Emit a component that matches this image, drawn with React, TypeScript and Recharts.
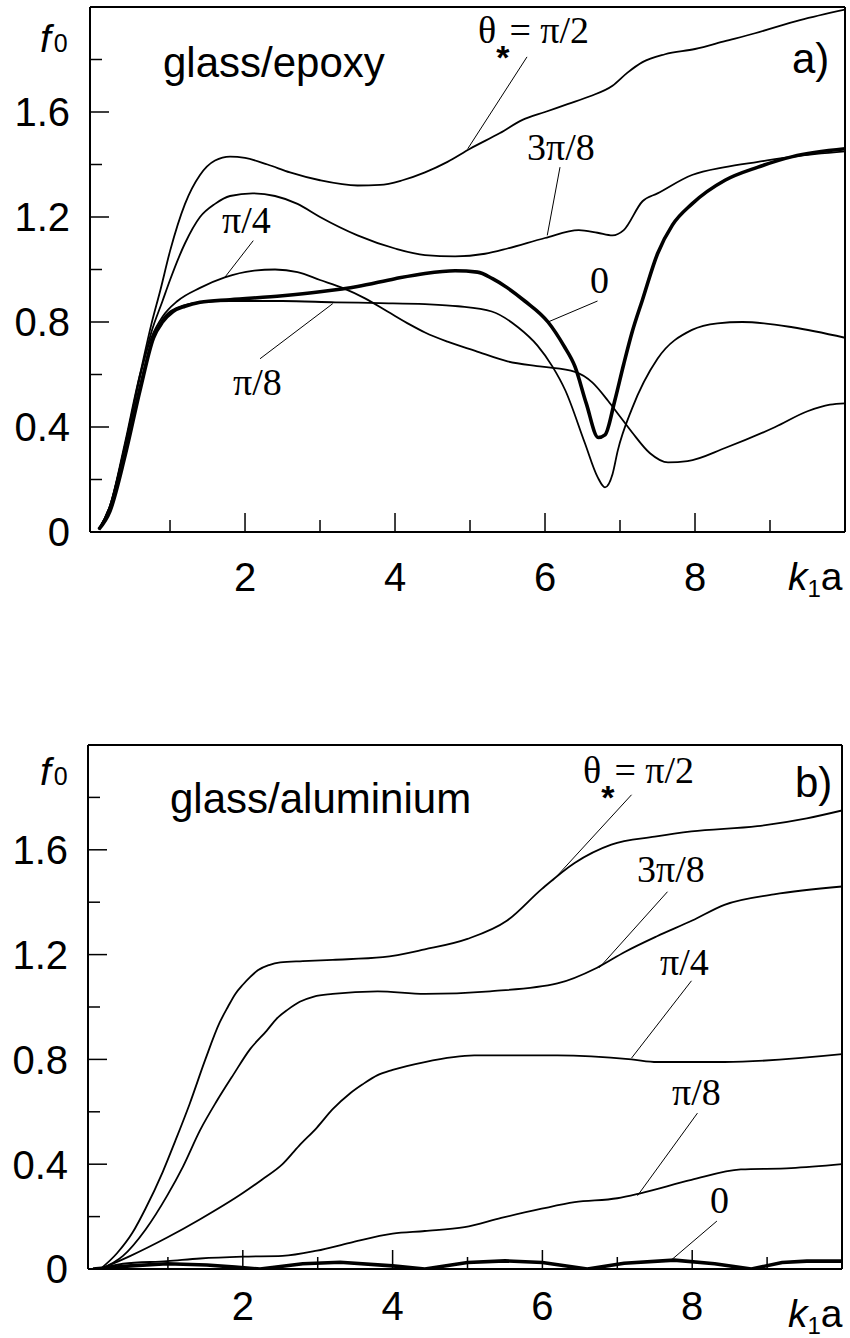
import React from "react";
import { LineChart, Line, XAxis, YAxis, ReferenceLine } from "recharts";

// k1a ticks (minor ones carry no label)
const xTicks = [1, 2, 3, 4, 5, 6, 7, 8, 9];
const xLabelled = [2, 4, 6, 8];
const yTicks = [0, 0.2, 0.4, 0.6, 0.8, 1.0, 1.2, 1.4, 1.6, 1.8];
const yLabelled = [0, 0.4, 0.8, 1.2, 1.6];

// a) glass/epoxy, [k1a, f0]
const epoxyHalfPi = [
  [0.05, 0.01], [0.2, 0.1], [0.4, 0.33], [0.6, 0.6], [0.75, 0.79], [0.87, 0.92], [1.0, 1.07],
  [1.2, 1.25], [1.4, 1.36], [1.6, 1.415], [1.8, 1.43], [2.0, 1.425], [2.3, 1.4], [2.6, 1.37],
  [3.0, 1.34], [3.5, 1.32], [3.8, 1.322], [4.1, 1.34], [4.4, 1.37], [4.7, 1.41], [5.0, 1.46],
  [5.4, 1.52], [5.7, 1.57], [6.0, 1.6], [6.3, 1.63], [6.6, 1.66], [6.9, 1.7], [7.1, 1.75],
  [7.3, 1.79], [7.6, 1.82], [8.0, 1.84], [8.4, 1.87], [8.8, 1.9], [9.4, 1.95], [10, 1.99],
];
const epoxy3Pi8 = [
  [0.05, 0.01], [0.2, 0.1], [0.4, 0.33], [0.6, 0.59], [0.75, 0.76], [0.9, 0.88], [1.0, 0.96],
  [1.2, 1.1], [1.4, 1.2], [1.6, 1.25], [1.8, 1.28], [2.1, 1.29], [2.4, 1.28], [2.7, 1.25],
  [3.0, 1.2], [3.5, 1.13], [4.0, 1.08], [4.4, 1.055], [4.8, 1.05], [5.2, 1.06], [5.5, 1.08],
  [6.0, 1.12], [6.45, 1.15], [6.7, 1.14], [6.9, 1.13], [7.05, 1.15], [7.3, 1.26], [7.5, 1.29],
  [7.96, 1.36], [8.4, 1.39], [8.84, 1.41], [9.3, 1.43], [10, 1.45],
];
const epoxyPi4 = [
  [0.05, 0.01], [0.2, 0.1], [0.4, 0.34], [0.6, 0.6], [0.75, 0.74], [0.9, 0.82], [1.1, 0.88],
  [1.4, 0.93], [1.73, 0.97], [2.1, 0.995], [2.4, 1.0], [2.7, 0.99], [3.0, 0.96], [3.3, 0.93],
  [3.6, 0.89], [3.9, 0.84], [4.2, 0.79], [4.4, 0.76], [4.7, 0.725], [5.07, 0.69], [5.5, 0.65],
  [5.96, 0.63], [6.4, 0.61], [6.63, 0.57], [6.84, 0.5], [7.0, 0.44], [7.16, 0.38], [7.4, 0.3],
  [7.64, 0.265], [7.9, 0.27], [8.4, 0.32], [9.07, 0.4], [9.5, 0.46], [9.8, 0.485], [10, 0.49],
];
const epoxyPi8 = [
  [0.05, 0.01], [0.2, 0.09], [0.4, 0.31], [0.6, 0.56], [0.75, 0.72], [0.9, 0.81], [1.1, 0.855],
  [1.4, 0.875], [1.8, 0.88], [2.5, 0.88], [3.2, 0.875], [3.8, 0.872], [4.4, 0.868], [4.84, 0.86],
  [5.29, 0.84], [5.64, 0.78], [5.9, 0.71], [6.1, 0.63], [6.27, 0.54], [6.53, 0.34], [6.7, 0.21],
  [6.8, 0.17], [6.9, 0.22], [6.97, 0.31], [7.16, 0.47], [7.5, 0.66], [7.96, 0.77], [8.3, 0.795],
  [8.63, 0.8], [9.3, 0.78], [10, 0.74],
];
const epoxyZero = [
  [0.05, 0.01], [0.2, 0.08], [0.4, 0.29], [0.6, 0.54], [0.78, 0.74], [0.9, 0.8], [1.04, 0.84],
  [1.2, 0.86], [1.4, 0.875], [1.8, 0.885], [2.5, 0.9], [3.0, 0.915], [3.5, 0.935], [4.0, 0.965],
  [4.4, 0.985], [4.8, 0.995], [5.1, 0.99], [5.3, 0.965], [5.5, 0.93], [5.73, 0.88], [6.04, 0.8],
  [6.25, 0.71], [6.4, 0.63], [6.55, 0.49], [6.71, 0.36], [6.8, 0.37], [6.93, 0.5], [7.05, 0.64],
  [7.16, 0.76], [7.3, 0.885], [7.5, 1.06], [7.7, 1.17], [7.96, 1.25], [8.4, 1.34], [8.84, 1.39],
  [9.3, 1.43], [10, 1.46],
];

// b) glass/aluminium
const aluHalfPi = [
  [0.1, 0.0], [0.32, 0.06], [0.53, 0.14], [0.7, 0.23], [0.93, 0.37], [1.1, 0.49], [1.29, 0.63],
  [1.5, 0.8], [1.69, 0.94], [1.8, 1.0], [1.9, 1.05], [2.0, 1.085], [2.1, 1.115], [2.2, 1.14],
  [2.35, 1.16], [2.5, 1.17], [2.8, 1.175], [3.2, 1.18], [3.87, 1.19], [4.43, 1.22], [5.0, 1.26],
  [5.53, 1.33], [5.99, 1.45], [6.43, 1.55], [6.92, 1.62], [7.5, 1.65], [7.99, 1.67], [8.87, 1.69],
  [9.53, 1.72], [10, 1.75],
];
const alu3Pi8 = [
  [0.1, 0.0], [0.4, 0.05], [0.7, 0.15], [0.99, 0.28], [1.2, 0.39], [1.43, 0.53], [1.65, 0.64],
  [1.87, 0.74], [2.1, 0.84], [2.32, 0.91], [2.45, 0.955], [2.6, 0.99], [2.76, 1.02], [2.95, 1.04],
  [3.2, 1.05], [3.8, 1.06], [4.43, 1.05], [5.3, 1.06], [6.2, 1.09], [6.73, 1.15], [7.1, 1.21],
  [7.53, 1.27], [8.0, 1.33], [8.43, 1.39], [9.09, 1.43], [10, 1.46],
];
const aluPi4 = [
  [0.1, 0.0], [0.5, 0.05], [0.99, 0.12], [1.43, 0.19], [2.0, 0.29], [2.25, 0.34], [2.53, 0.4],
  [2.75, 0.47], [2.99, 0.54], [3.2, 0.61], [3.43, 0.67], [3.6, 0.705], [3.8, 0.74], [4.0, 0.76],
  [4.43, 0.79], [5.09, 0.815], [6.2, 0.815], [7.19, 0.8], [7.53, 0.79], [8.43, 0.79], [10, 0.82],
];
const aluPi8 = [
  [0.1, 0.0], [0.4, 0.02], [0.99, 0.03], [1.43, 0.04], [2.0, 0.047], [2.53, 0.05], [2.99, 0.07],
  [3.43, 0.1], [4.0, 0.135], [4.43, 0.145], [4.96, 0.16], [5.45, 0.195], [5.99, 0.23],
  [6.43, 0.255], [7.0, 0.27], [7.32, 0.29], [7.99, 0.34], [8.65, 0.38], [9.32, 0.385], [10, 0.4],
];
const aluZero = [
  [0.0, 0.0], [0.5, 0.012], [0.99, 0.02], [1.52, 0.015], [1.9, 0.007], [2.23, 0.0], [2.8, 0.02],
  [3.3, 0.026], [4.0, 0.012], [4.43, 0.0], [5.0, 0.025], [5.5, 0.031], [6.0, 0.025], [6.6, 0.0],
  [7.09, 0.022], [7.76, 0.034], [8.3, 0.02], [8.79, 0.0], [9.2, 0.025], [9.53, 0.03], [10, 0.03],
];

const SANS = "Liberation Sans, Arial, sans-serif";
const SERIF = "Liberation Serif, Times New Roman, serif";

const toPts = (arr: number[][]) => arr.map(([x, y]) => ({ x, y }));
const near = (list: number[], v: number) => list.some((t) => Math.abs(t - v) < 1e-6);

function YTick(props: any) {
  const { x, y, payload } = props;
  const major = near(yLabelled, payload.value);
  const txt = payload.value === 0 ? "0" : payload.value.toFixed(1);
  return (
    <g>
      <line x1={x} x2={x + (major ? 19 : 12)} y1={y} y2={y} stroke="#000" strokeWidth={1.5} />
      {major && (
        <text x={x - 20} y={y} dy="0.36em" textAnchor="end" fontFamily={SANS} fontSize={40} fill="#000">
          {txt}
        </text>
      )}
    </g>
  );
}

// labelY is the baseline of the tick numbers, in svg pixels
function makeXTick(labelY: number) {
  return function XTick(props: any) {
    const { x, y, payload } = props;
    const major = near(xLabelled, payload.value);
    return (
      <g>
        <line x1={x} x2={x} y1={y} y2={y - (major ? 19 : 12)} stroke="#000" strokeWidth={1.5} />
        {major && (
          <text x={x} y={labelY} textAnchor="middle" fontFamily={SANS} fontSize={40} fill="#000">
            {payload.value}
          </text>
        )}
      </g>
    );
  };
}

type Curve = { name: string; pts: number[][]; thick?: boolean; linear?: boolean };
type Leader = [number, number, number, number];
type Tag = { text: string; x: number; y: number };

function Panel(props: {
  top: number;
  height: number;
  margin: { top: number; right: number; bottom: number; left: number };
  curves: Curve[];
  leaders: Leader[];
  tags: Tag[];
  title: string;
  titleX: number;
  titleY: number;
  letter: string;
  letterX: number;
  letterY: number;
  f0Y: number;
  kaY: number;
  tickLabelY: number;
  theta: { x: number; y: number };
}) {
  const XTick = makeXTick(props.tickLabelY);
  const frame = { stroke: "#000", strokeWidth: 2 };
  return (
    <div style={{ position: "absolute", left: 0, top: props.top }}>
      <LineChart width={850} height={props.height} margin={props.margin}>
        <XAxis
          dataKey="x"
          type="number"
          domain={[-0.067, 10]}
          ticks={xTicks}
          allowDataOverflow
          height={1}
          tickSize={0}
          tickMargin={0}
          tickLine={false}
          axisLine={frame}
          tick={<XTick />}
          interval={0}
        />
        <XAxis
          xAxisId="top"
          orientation="top"
          dataKey="x"
          type="number"
          domain={[-0.067, 10]}
          ticks={xTicks}
          height={1}
          tickSize={0}
          tick={false}
          tickLine={false}
          axisLine={frame}
        />
        <YAxis
          type="number"
          domain={[0, 2]}
          ticks={yTicks}
          allowDataOverflow
          width={1}
          tickSize={0}
          tickMargin={0}
          tickLine={false}
          axisLine={frame}
          tick={<YTick />}
          interval={0}
        />
        <YAxis
          yAxisId="right"
          orientation="right"
          type="number"
          domain={[0, 2]}
          ticks={yTicks}
          width={1}
          tickSize={0}
          tick={false}
          tickLine={false}
          axisLine={frame}
        />
        {props.leaders.map((l, i) => (
          <ReferenceLine
            key={"l" + i}
            segment={[
              { x: l[0], y: l[1] },
              { x: l[2], y: l[3] },
            ]}
            stroke="#000"
            strokeWidth={1}
            ifOverflow="visible"
          />
        ))}
        {props.curves.map((c) => (
          <Line
            key={c.name}
            name={c.name}
            data={toPts(c.pts)}
            dataKey="y"
            type={c.linear ? "linear" : "monotone"}
            stroke="#000"
            strokeWidth={c.thick ? 3.6 : 1.8}
            dot={false}
            isAnimationActive={false}
          />
        ))}
        <text x={props.titleX} y={props.titleY} fontFamily={SANS} fontSize={42} fill="#000">
          {props.title}
        </text>
        <text x={props.letterX} y={props.letterY} fontFamily={SANS} fontSize={42} fill="#000">
          {props.letter}
        </text>
        <text x={40} y={props.f0Y} fontFamily={SANS} fontSize={39} fill="#000">
          <tspan fontStyle="italic">f</tspan>
          <tspan fontSize={25} dx={3}>0</tspan>
        </text>
        <text x={788} y={props.kaY} fontFamily={SANS} fontSize={39} fill="#000">
          <tspan fontStyle="italic">k</tspan>
          <tspan fontSize={24} dy={7}>1</tspan>
          <tspan dy={-7}>a</tspan>
        </text>
        <text x={props.theta.x} y={props.theta.y} fontFamily={SERIF} fontSize={38} fill="#000">
          θ<tspan fontSize={34} fontWeight="bold" fontFamily={SANS} dy={26}>*</tspan>
          <tspan dy={-26}>= π/2</tspan>
        </text>
        {props.tags.map((t) => (
          <text key={t.text} x={t.x} y={t.y} fontFamily={SERIF} fontSize={38} fill="#000">
            {t.text}
          </text>
        ))}
      </LineChart>
    </div>
  );
}

export default function App() {
  return (
    <div style={{ position: "absolute", left: 0, top: 0, width: 850, height: 1338, background: "#fff" }}>
      <Panel
        top={0}
        height={640}
        margin={{ top: 6, right: 4, bottom: 107, left: 89 }}
        curves={[
          { name: "pi/2", pts: epoxyHalfPi },
          { name: "3pi/8", pts: epoxy3Pi8 },
          { name: "pi/4", pts: epoxyPi4 },
          { name: "pi/8", pts: epoxyPi8 },
          { name: "0", pts: epoxyZero, thick: true },
        ]}
        leaders={[
          [5.76, 1.81, 4.97, 1.46],
          [6.2, 1.39, 6.03, 1.13],
          [2.11, 1.11, 1.73, 0.97],
          [2.2, 0.66, 3.17, 0.87],
          [6.7, 0.88, 6.04, 0.8],
        ]}
        tags={[
          { text: "3π/8", x: 527, y: 160 },
          { text: "π/4", x: 222, y: 233 },
          { text: "π/8", x: 233, y: 395 },
          { text: "0", x: 590, y: 293 },
        ]}
        title="glass/epoxy"
        titleX={163}
        titleY={77}
        letter="a)"
        letterX={792}
        letterY={73}
        f0Y={52}
        kaY={590}
        tickLabelY={591}
        theta={{ x: 478, y: 43 }}
      />
      <Panel
        top={700}
        height={638}
        margin={{ top: 44, right: 7, bottom: 68, left: 87 }}
        curves={[
          { name: "pi/2", pts: aluHalfPi },
          { name: "3pi/8", pts: alu3Pi8 },
          { name: "pi/4", pts: aluPi4 },
          { name: "pi/8", pts: aluPi8 },
          { name: "0", pts: aluZero, thick: true, linear: true },
        ]}
        leaders={[
          [7.19, 1.81, 6.13, 1.48],
          [7.67, 1.44, 6.76, 1.15],
          [7.99, 1.1, 7.19, 0.805],
          [8.07, 0.595, 7.27, 0.28],
          [8.33, 0.183, 7.72, 0.034],
        ]}
        tags={[
          { text: "3π/8", x: 637, y: 182 },
          { text: "π/4", x: 660, y: 275 },
          { text: "π/8", x: 672, y: 405 },
          { text: "0", x: 710, y: 513 },
        ]}
        title="glass/aluminium"
        titleX={170}
        titleY={113}
        letter="b)"
        letterX={795}
        letterY={97}
        f0Y={85}
        kaY={627}
        tickLabelY={620}
        theta={{ x: 583, y: 83 }}
      />
    </div>
  );
}
